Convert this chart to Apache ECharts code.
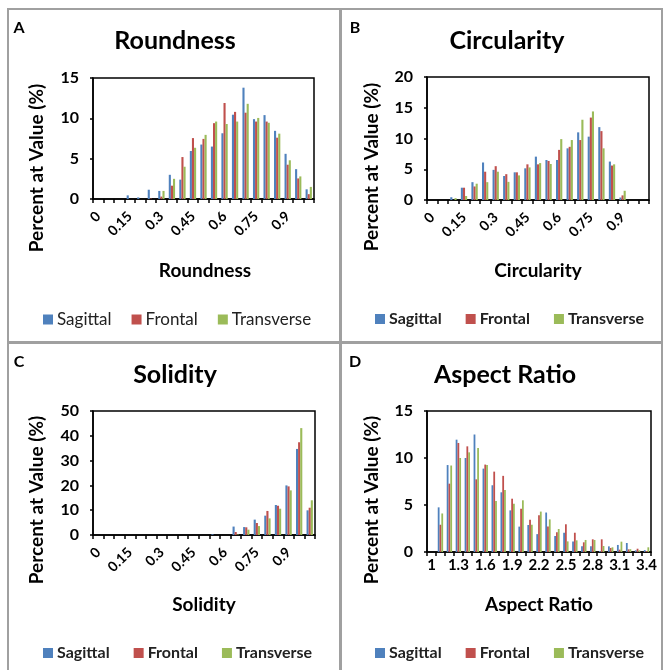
<!DOCTYPE html>
<html>
<head>
<meta charset="utf-8">
<script src="https://cdn.jsdelivr.net/npm/echarts@6/dist/echarts.min.js"></script>
<style>
html,body{margin:0;padding:0;background:#fff;}
#chart{width:665px;height:670px;}
</style>
</head>
<body>
<div id="chart"></div>
<script>
// ---- categories / tick labels ----
const shapeCats = ['0','0.05','0.1','0.15','0.2','0.25','0.3','0.35','0.4','0.45','0.5','0.55','0.6','0.65','0.7','0.75','0.8','0.85','0.9','0.95','1'];
const aspectCats = ['1','1.1','1.2','1.3','1.4','1.5','1.6','1.7','1.8','1.9','2','2.1','2.2','2.3','2.4','2.5','2.6','2.7','2.8','2.9','3','3.1','3.2','3.3','3.4'];
const seriesNames = ['Sagittal','Frontal','Transverse'];

// ---- A: Roundness ----
const roundSag = [0,0,0,0.45,0.2,1.15,1.0,3.0,2.4,5.95,6.75,6.5,8.15,10.45,13.8,9.9,10.4,8.45,5.6,3.7,1.2];
const roundFro = [0,0,0,0,0,0.05,0.3,1.65,5.2,7.55,7.45,9.4,11.9,10.8,10.7,9.6,9.6,7.6,4.25,2.55,0.6];
const roundTra = [0,0,0,0,0,0,1.0,2.5,4.0,6.35,7.95,9.6,9.3,9.6,11.8,10.05,9.45,8.1,4.8,2.8,1.5];

// ---- B: Circularity ----
const circSag = [0,0,0.45,2.0,2.9,6.1,4.9,3.9,4.5,5.15,7.05,6.5,6.5,8.4,11.0,10.3,11.85,6.25,0.4,0,0];
const circFro = [0,0,0,2.0,2.2,4.6,5.5,4.2,4.5,5.8,5.8,6.35,8.15,8.65,9.75,13.4,11.2,5.6,0.75,0,0];
const circTra = [0,0,0.3,0.65,2.65,2.9,4.6,2.95,4.0,5.3,6.0,5.85,9.9,9.75,13.05,14.4,8.4,5.8,1.5,0,0];

// ---- C: Solidity ----
const solSag = [0,0,0,0,0,0,0,0,0,0,0,0.3,0,3.4,3.2,6.2,7.8,12.1,20.0,34.7,9.95];
const solFro = [0,0,0,0,0,0,0,0,0,0,0,0,0,1.2,3.1,4.85,9.7,11.8,19.6,37.4,11.0];
const solTra = [0,0,0,0,0,0,0,0,0,0,0,0,0,0.2,2.15,3.6,6.7,10.6,18.0,43.1,14.0];

// ---- D: Aspect Ratio ----
const aspSag = [0,4.75,9.25,11.95,10.0,12.5,8.87,7.1,6.35,4.43,2.7,2.87,1.9,4.2,1.7,2.05,1.13,0.6,0.6,0.1,0.6,0.75,0.96,0.18,0.2];
const aspFro = [0,2.9,7.27,11.6,11.24,7.73,9.3,8.55,8.1,5.67,4.6,3.44,3.9,2.7,2.1,2.95,2.05,1.03,1.35,1.35,0.43,0.25,0.28,0.35,0.1];
const aspTra = [0,4.1,9.2,10.0,10.6,11.06,9.25,5.43,6.6,5.14,5.5,2.9,4.3,3.47,2.45,1.13,1.24,1.28,1.28,0.64,0.5,1.1,0.3,0.18,0.5];

// ---- y-axis scales ----
const yScales = [
  {max: 15, interval: 5},
  {max: 20, interval: 5},
  {max: 50, interval: 10},
  {max: 15, interval: 5}
];

const colors = ['#4F81BD', '#C0504D', '#9BBB59'];
const FF = 'Lato, "Open Sans", sans-serif';

const grids = [
  {left: 93, top: 78, width: 221, height: 121},
  {left: 427, top: 77, width: 222, height: 123},
  {left: 93, top: 411, width: 222, height: 124},
  {left: 427, top: 411, width: 224, height: 141}
];

const catSets = [shapeCats, shapeCats, shapeCats, aspectCats];
const dataSets = [
  [roundSag, roundFro, roundTra],
  [circSag, circFro, circTra],
  [solSag, solFro, solTra],
  [aspSag, aspFro, aspTra]
];

const xAxes = catSets.map((cats, i) => ({
  type: 'category',
  gridIndex: i,
  data: cats,
  boundaryGap: true,
  axisLine: {show: true, lineStyle: {color: '#000', width: 1.5}},
  axisTick: {show: true, interval: 0, length: 4, lineStyle: {color: '#000', width: 1.5}},
  axisLabel: i === 3
    ? {interval: 2, rotate: 0, margin: 6, color: '#000', fontFamily: FF, fontWeight: 'bold', fontSize: 15}
    : {interval: 2, rotate: 45, margin: 15, color: '#000', fontFamily: FF, fontWeight: 'bold', fontSize: 14},
  splitLine: {show: false}
}));

const yAxes = yScales.map((s, i) => ({
  type: 'value',
  gridIndex: i,
  min: 0,
  max: s.max,
  interval: s.interval,
  axisLine: {show: true, lineStyle: {color: '#000', width: 1.5}},
  axisTick: {show: true, length: 3, lineStyle: {color: '#000', width: 1.5}},
  axisLabel: {margin: 14, color: '#000', fontFamily: FF, fontWeight: 'bold', fontSize: 16},
  splitLine: {show: false}
}));

const series = [];
dataSets.forEach((set, gi) => {
  set.forEach((arr, si) => {
    series.push({
      type: 'bar',
      name: seriesNames[si],
      xAxisIndex: gi,
      yAxisIndex: gi,
      data: arr,
      barGap: '0%',
      barCategoryGap: '40%',
      itemStyle: {color: colors[si]},
      animation: false
    });
  });
});

const legendPos = [
  {left: 43, top: 311, bold: false},
  {left: 375, top: 311, bold: true},
  {left: 43, top: 645, bold: true},
  {left: 375, top: 645, bold: true}
];
const legends = legendPos.map(p => ({
  data: seriesNames,
  left: p.left,
  top: p.top,
  padding: 0,
  icon: 'rect',
  itemWidth: 10,
  itemHeight: 10,
  itemGap: p.bold ? 24 : 20,
  selectedMode: false,
  textStyle: {fontFamily: FF, fontSize: p.bold ? 16 : 17, fontWeight: p.bold ? 'bold' : 'normal', color: '#222', padding: [0, 0, 0, -1]}
}));

function txt(x, y, text, font, rot) {
  return {
    type: 'text', x: x, y: y, rotation: rot || 0, silent: true,
    style: {text: text, font: font, fill: '#000', align: 'center', verticalAlign: 'middle'}
  };
}

const titleFont = 'bold 25px ' + FF;
const letterFont = 'bold 16px ' + FF;
const axisNameFont = 'bold 19px ' + FF;

const panels = [
  {letter: 'A', lx: 19, ly: 28, title: 'Roundness', tx: 175, ty: 41, yn: [37, 168], xn: 'Roundness', xnx: 205, xny: 271},
  {letter: 'B', lx: 355, ly: 28, title: 'Circularity', tx: 507, ty: 41, yn: [372, 167], xn: 'Circularity', xnx: 538, xny: 271},
  {letter: 'C', lx: 19, ly: 362, title: 'Solidity', tx: 175, ty: 375, yn: [37, 500], xn: 'Solidity', xnx: 204, xny: 605},
  {letter: 'D', lx: 355, ly: 362, title: 'Aspect Ratio', tx: 505, ty: 375, yn: [372, 500], xn: 'Aspect Ratio', xnx: 539, xny: 605}
];

const graphics = [
  {type: 'rect', silent: true, shape: {x: 8, y: 9, width: 654, height: 680}, style: {fill: 'none', stroke: '#a0a0a0', lineWidth: 2}},
  {type: 'line', silent: true, shape: {x1: 340.5, y1: 9, x2: 340.5, y2: 670}, style: {stroke: '#a0a0a0', lineWidth: 3}},
  {type: 'line', silent: true, shape: {x1: 8, y1: 342.5, x2: 662, y2: 342.5}, style: {stroke: '#a0a0a0', lineWidth: 3}}
];
panels.forEach(p => {
  graphics.push(txt(p.lx, p.ly, p.letter, letterFont));
  graphics.push(txt(p.tx, p.ty, p.title, titleFont));
  graphics.push(txt(p.yn[0], p.yn[1], 'Percent at Value (%)', axisNameFont, Math.PI / 2));
  graphics.push(txt(p.xnx, p.xny, p.xn, axisNameFont));
});

const chart = echarts.init(document.getElementById('chart'), null, {renderer: 'canvas'});
chart.setOption({
  animation: false,
  backgroundColor: '#fff',
  grid: grids.map(g => Object.assign({show: true, borderColor: '#000', borderWidth: 1.5, backgroundColor: 'transparent'}, g)),
  xAxis: xAxes,
  yAxis: yAxes,
  legend: legends,
  series: series,
  graphic: graphics
});
</script>
</body>
</html>
